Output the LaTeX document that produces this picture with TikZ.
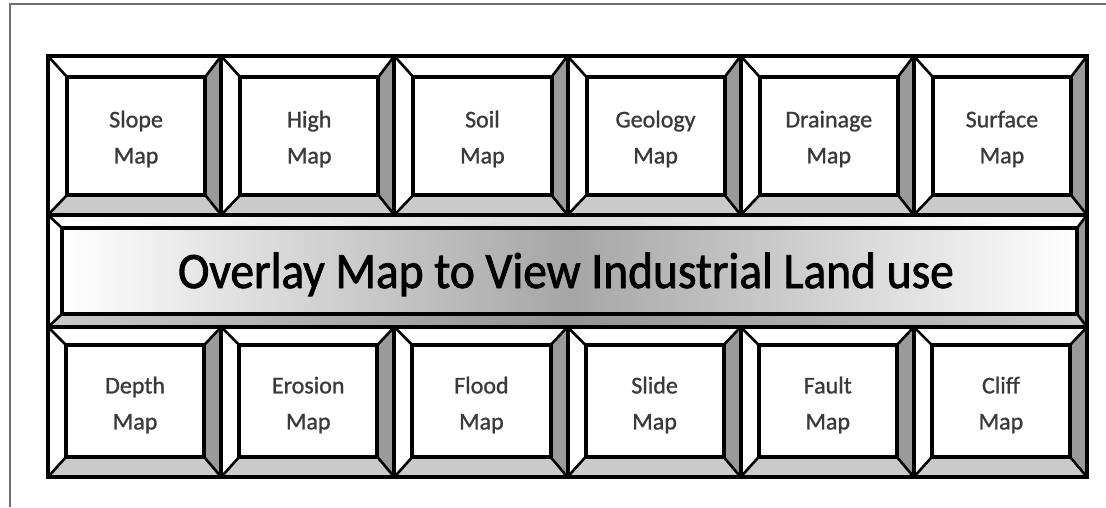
\documentclass[tikz,border=0pt]{standalone}
\usepackage{fontspec}
\setmainfont{Carlito}
\newfontfamily\ttlfont[FakeBold=1.6, FakeStretch=0.93]{Carlito}
\newfontfamily\lblfont[FakeBold=1.0]{Carlito}
\definecolor{rgrey}{HTML}{9A9A9A}
\definecolor{bgrey}{HTML}{CACACA}
\definecolor{framegrey}{HTML}{707070}
\definecolor{txtgrey}{HTML}{3A3A3A}
\tikzset{
  edge/.style={line width=4pt, line join=miter, black},
  diag/.style={line width=2.6pt, black},
  lbl/.style={font=\lblfont\fontsize{24}{36}\selectfont, text=txtgrey, align=center, inner sep=0pt},
  ttl/.style={font=\ttlfont\fontsize{51}{51}\selectfont, text=black, inner sep=0pt, anchor=base},
  frm/.style={line width=2pt, framegrey}
}
\newcommand\btn[8]{%
  \fill[white] (#1,#2) -- (#3,#2) -- ({#7},#6) -- ({#5},#6) -- cycle;
  \fill[white] (#1,#2) -- ({#5},#6) -- ({#5},#8) -- (#1,#4) -- cycle;
  \fill[rgrey] (#3,#2) -- (#3,#4) -- ({#7},#8) -- ({#7},#6) -- cycle;
  \fill[bgrey] (#1,#4) -- (#3,#4) -- ({#7},#8) -- ({#5},#8) -- cycle;
  \draw[diag] (#1,#2) -- ({#5},#6) (#3,#2) -- ({#7},#6) (#3,#4) -- ({#7},#8) (#1,#4) -- ({#5},#8);
  \draw[edge] ({#5},#6) rectangle ({#7},#8);
  \draw[edge] (#1,#2) rectangle (#3,#4);
}
\begin{document}
\begin{tikzpicture}[x=1pt,y=-1pt]
\useasboundingbox (0,0) rectangle (1106,507);
\fill[white] (0,0) rectangle (1106,507);
% outer frame of the figure
\draw[frm] (1106,4) -- (10,4) -- (10,507);
% top row
\foreach \i/\nm/\a in {0/slope/Slope, 1/high/High, 2/soil/Soil, 3/geology/Geology, 4/drainage/Drainage, 5/surface/Surface}{
  \pgfmathsetmacro\xa{48+173.17*\i}
  \pgfmathsetmacro\xb{\xa+173.17}
  \btn{\xa}{56}{\xb}{215}{\xa+19}{77}{\xb-16}{195}
  \node[lbl] (\nm) at ({(\xa+\xb+3)/2},139) {\a\\Map};
}
% bottom row
\foreach \i/\nm/\a in {0/depth/Depth, 1/erosion/Erosion, 2/flood/Flood, 3/slide/Slide, 4/fault/Fault, 5/cliff/Cliff}{
  \pgfmathsetmacro\xa{48+173.17*\i}
  \pgfmathsetmacro\xb{\xa+173.17}
  \btn{\xa}{327}{\xb}{477}{\xa+18}{345}{\xb-17}{457}
  \node[lbl] (\nm) at ({(\xa+\xb+1)/2},405) {\a\\Map};
}
% banner
\shade[left color=white, right color=white, middle color=black!14] (48,215) -- (1087,215) -- (1077,228) -- (62,228) -- cycle;
\fill[white] (48,215) -- (62,228) -- (62,314) -- (48,327) -- cycle;
\fill[rgrey] (1087,215) -- (1087,327) -- (1077,314) -- (1077,228) -- cycle;
\shade[left color=bgrey, right color=bgrey, middle color=black!42] (48,327) -- (1087,327) -- (1077,314) -- (62,314) -- cycle;
\shade[left color=white, right color=white, middle color=black!35] (62,228) rectangle (1077,314);
\draw[diag] (48,215) -- (62,228) (1087,215) -- (1077,228) (1087,327) -- (1077,314) (48,327) -- (62,314);
\draw[edge] (62,228) rectangle (1077,314);
\draw[edge] (48,215) rectangle (1087,327);
\node[ttl] (overlay) at (566,288) {Overlay Map to View Industrial Land use};
\end{tikzpicture}
\end{document}
